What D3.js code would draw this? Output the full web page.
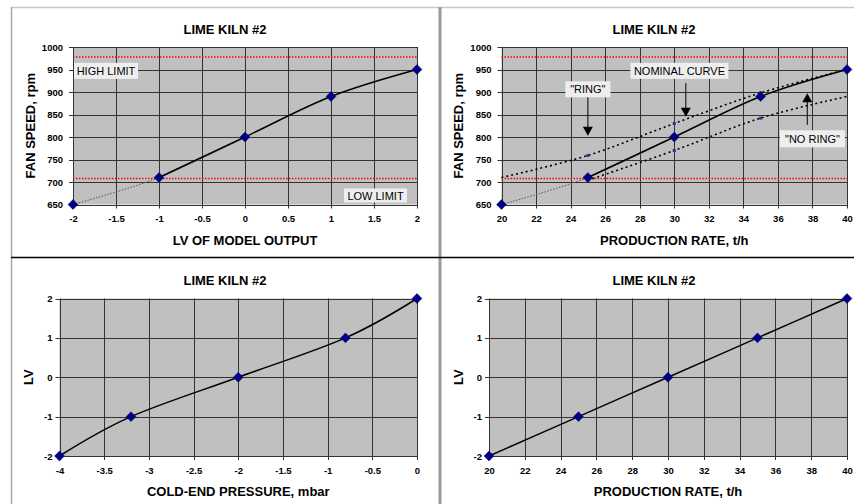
<!DOCTYPE html>
<html><head><meta charset="utf-8">
<script src="https://cdn.jsdelivr.net/npm/d3@7"></script>
<style>
body{margin:0;background:#fff;}
svg{display:block;font-family:"Liberation Sans",Arial,sans-serif;}
</style></head>
<body>
<svg id="c" width="854" height="504"></svg>
<script>
// ---------- data ----------
const lvValues = [-2, -1, 0, 1, 2];
const fanSpeed = [650, 710, 800, 890, 950];
const fanTicks = [650, 700, 750, 800, 850, 900, 950, 1000];
const lvTicks1 = [-2, -1.5, -1, -0.5, 0, 0.5, 1, 1.5, 2];
const highLimit = 978;
const lowLimit = 708;

const prodRate = [20, 25, 30, 35, 40];
const ringRate = [20, 25, 30, 35, 40];
const ringSpeed = [710, 759, 830, 898, 950];
const noRingRate = [25, 30, 35, 40];
const noRingSpeed = [704, 770, 842, 890];
const prodTicks = [20, 22, 24, 26, 28, 30, 32, 34, 36, 38, 40];

const pressure = [-4, -3.2, -2, -0.8, 0];
const pressureLV = [-2, -1, 0, 1, 2];
const pressureTicks = [-4, -3.5, -3, -2.5, -2, -1.5, -1, -0.5, 0];
const lvTicks = [-2, -1, 0, 1, 2];

const rateLV = [-2, -1, 0, 1, 2];

const title = "LIME KILN #2";

// ---------- drawing ----------
const svg = d3.select("#c");
const NAVY = "#000080";

// frame lines
svg.append("line").attr("x1", 11).attr("x2", 854).attr("y1", 7.5).attr("y2", 7.5).attr("stroke", "#c8c8c8").attr("stroke-width", 1.5);
svg.append("line").attr("x1", 11.5).attr("x2", 11.5).attr("y1", 7).attr("y2", 504).attr("stroke", "#a8a8a8").attr("stroke-width", 1.5);
svg.append("line").attr("x1", 440).attr("x2", 440).attr("y1", 7).attr("y2", 504).attr("stroke", "#9a9a9a").attr("stroke-width", 3);
svg.append("line").attr("x1", 11).attr("x2", 854).attr("y1", 257.5).attr("y2", 257.5).attr("stroke", "#000").attr("stroke-width", 1.5);

function panel(o) {
  const g = svg.append("g");
  const x = d3.scaleLinear().domain(o.xDomain).range([o.left, o.right]);
  const y = d3.scaleLinear().domain(o.yDomain).range([o.bottom, o.top]);
  g.append("rect").attr("x", o.left).attr("y", o.top)
    .attr("width", o.right - o.left).attr("height", o.bottom - o.top).attr("fill", "#c0c0c0");
  // grid
  g.selectAll(".vg").data(o.xTicks).join("line")
    .attr("x1", d => Math.round(x(d)) + 0.5).attr("x2", d => Math.round(x(d)) + 0.5)
    .attr("y1", o.top).attr("y2", o.bottom + 4).attr("stroke", "#333").attr("stroke-width", 1);
  g.selectAll(".hg").data(o.yTicks).join("line")
    .attr("x1", o.left - 4).attr("x2", o.right)
    .attr("y1", d => Math.round(y(d)) + 0.5).attr("y2", d => Math.round(y(d)) + 0.5)
    .attr("stroke", "#333").attr("stroke-width", 1);
  // axes via d3 axis (labels only)
  const xa = g.append("g").attr("transform", `translate(0,${o.bottom})`)
    .call(d3.axisBottom(x).tickValues(o.xTicks).tickSize(0).tickPadding(11).tickFormat(d => String(d).replace("-", "-")));
  const ya = g.append("g").attr("transform", `translate(${o.left},0)`)
    .call(d3.axisLeft(y).tickValues(o.yTicks).tickSize(0).tickPadding(o.yPad).tickFormat(d => String(d)));
  [xa, ya].forEach(a => {
    a.select(".domain").remove();
    a.selectAll("text").attr("font-family", "Liberation Sans, Arial, sans-serif")
      .attr("font-size", 9.5).attr("font-weight", "bold").attr("fill", "#000");
  });
  // title
  g.append("text").attr("x", o.titleX).attr("y", o.titleY).attr("text-anchor", "middle")
    .attr("font-size", 13).attr("font-weight", "bold").text(title);
  g.append("text").attr("x", (o.left + o.right) / 2).attr("y", o.xLabelY).attr("text-anchor", "middle")
    .attr("font-size", 13).attr("font-weight", "bold").text(o.xLabel);
  g.append("text").attr("transform", `translate(${o.yLabelX},${(o.top + o.bottom) / 2}) rotate(-90)`)
    .attr("text-anchor", "middle").attr("font-size", 13).attr("font-weight", "bold").text(o.yLabel);
  return {g, x, y};
}

function smoothLine(x, y) {
  return d3.line().x(d => x(d[0])).y(d => y(d[1])).curve(d3.curveCardinal.tension(0));
}
function diamonds(g, x, y, pts) {
  g.selectAll(null).data(pts).join("path")
    .attr("d", d3.symbol().type(d3.symbolDiamond2).size(62))
    .attr("transform", d => `translate(${x(d[0])},${y(d[1])}) rotate(0)`)
    .attr("fill", NAVY).attr("stroke", NAVY).attr("stroke-width", 0.5);
}
function limitLines(g, x, y, o) {
  [highLimit, lowLimit].forEach(v => {
    g.append("line").attr("x1", o.left).attr("x2", o.right).attr("y1", y(v)).attr("y2", y(v))
      .attr("stroke", "#ff0000").attr("stroke-width", 1.5).attr("stroke-dasharray", "1.5,1.5");
  });
}
function labelBox(g, cx, cy, w, h, text) {
  g.append("rect").attr("x", cx - w / 2).attr("y", cy - h / 2).attr("width", w).attr("height", h)
    .attr("fill", "#eeeeee");
  g.append("text").attr("x", cx).attr("y", cy + 4).attr("text-anchor", "middle")
    .attr("font-size", 11).attr("fill", "#000").text(text);
}
function arrow(g, x1, y1, x2, y2) {
  const dir = y2 > y1 ? 1 : -1;
  g.append("line").attr("x1", x1).attr("x2", x2).attr("y1", y1).attr("y2", y2 - dir * 7)
    .attr("stroke", "#000").attr("stroke-width", 1);
  g.append("path").attr("d", `M${x2 - 5},${y2 - dir * 9} L${x2 + 5},${y2 - dir * 9} L${x2},${y2} Z`).attr("fill", "#000");
}

// ---------- Panel 1 ----------
{
  const o = {left: 73, right: 417, top: 47, bottom: 204.5, xDomain: [-2, 2], yDomain: [650, 1000],
    xTicks: lvTicks1, yTicks: fanTicks, yPad: 10, titleX: 225, titleY: 34, xLabel: "LV OF MODEL OUTPUT",
    xLabelY: 245, yLabel: "FAN SPEED, rpm", yLabelX: 35};
  const {g, x, y} = panel(o);
  limitLines(g, x, y, o);
  const pts = lvValues.map((v, i) => [v, fanSpeed[i]]);
  g.append("path").attr("d", smoothLine(x, y)(pts.slice(0, 3))).attr("fill", "none")
    .attr("stroke", "#555").attr("stroke-width", 1).attr("stroke-dasharray", "1.5,1.5");
  g.append("path").attr("d", smoothLine(x, y)(pts.slice(1))).attr("fill", "none")
    .attr("stroke", "#000").attr("stroke-width", 1.5);
  diamonds(g, x, y, pts);
  labelBox(g, x(-2) + 33, y(947), 64, 16, "HIGH LIMIT");
  labelBox(g, x(2) - 41.5, y(670), 63, 14, "LOW LIMIT");
}

// ---------- Panel 2 ----------
{
  const o = {left: 501.5, right: 847, top: 47, bottom: 204.5, xDomain: [20, 40], yDomain: [650, 1000],
    xTicks: prodTicks, yTicks: fanTicks, yPad: 10, titleX: 654, titleY: 34, xLabel: "PRODUCTION RATE, t/h",
    xLabelY: 245, yLabel: "FAN SPEED, rpm", yLabelX: 463};
  const {g, x, y} = panel(o);
  limitLines(g, x, y, o);
  const nom = prodRate.map((v, i) => [v, fanSpeed[i]]);
  const ring = ringRate.map((v, i) => [v, ringSpeed[i]]);
  const noRing = noRingRate.map((v, i) => [v, noRingSpeed[i]]);
  g.append("path").attr("d", smoothLine(x, y)(ring)).attr("fill", "none")
    .attr("stroke", "#000").attr("stroke-width", 1.6).attr("stroke-dasharray", "2,3");
  g.append("path").attr("d", smoothLine(x, y)(noRing)).attr("fill", "none")
    .attr("stroke", "#000").attr("stroke-width", 1.6).attr("stroke-dasharray", "2,3");
  g.append("path").attr("d", smoothLine(x, y)(nom.slice(0, 3))).attr("fill", "none")
    .attr("stroke", "#555").attr("stroke-width", 1).attr("stroke-dasharray", "1.5,1.5");
  g.append("path").attr("d", smoothLine(x, y)(nom.slice(1))).attr("fill", "none")
    .attr("stroke", "#000").attr("stroke-width", 1.5);
  g.selectAll(null).data(ring.slice(1, 4).concat(noRing.slice(0, 3))).join("rect")
    .attr("x", d => x(d[0]) - 1.5).attr("y", d => y(d[1]) - 1.5).attr("width", 3).attr("height", 3)
    .attr("fill", "#333388");
  diamonds(g, x, y, nom);
  labelBox(g, x(30.3), y(947), 98, 16, "NOMINAL CURVE");
  labelBox(g, x(25.0), y(906), 45, 16, "\"RING\"");
  labelBox(g, x(38.0), y(796), 65, 17, "\"NO RING\"");
  arrow(g, x(25.0), y(888), x(25.0), y(803));
  arrow(g, x(30.67), y(920), x(30.67), y(845));
  arrow(g, x(37.7), y(827), x(37.7), y(897));
}

// ---------- Panel 3 ----------
{
  const o = {left: 59.5, right: 417, top: 298.5, bottom: 456, xDomain: [-4, 0], yDomain: [-2, 2],
    xTicks: pressureTicks, yTicks: lvTicks, yPad: 7, titleX: 225, titleY: 285, xLabel: "COLD-END PRESSURE, mbar",
    xLabelY: 496, yLabel: "LV", yLabelX: 33};
  const {g, x, y} = panel(o);
  const pts = pressure.map((v, i) => [v, pressureLV[i]]);
  g.append("path").attr("d", smoothLine(x, y)(pts)).attr("fill", "none")
    .attr("stroke", "#000").attr("stroke-width", 1.5);
  diamonds(g, x, y, pts);
}

// ---------- Panel 4 ----------
{
  const o = {left: 489, right: 847, top: 298.5, bottom: 456, xDomain: [20, 40], yDomain: [-2, 2],
    xTicks: prodTicks, yTicks: lvTicks, yPad: 7, titleX: 654, titleY: 285, xLabel: "PRODUCTION RATE, t/h",
    xLabelY: 496, yLabel: "LV", yLabelX: 463};
  const {g, x, y} = panel(o);
  const pts = prodRate.map((v, i) => [v, rateLV[i]]);
  g.append("path").attr("d", smoothLine(x, y)(pts)).attr("fill", "none")
    .attr("stroke", "#000").attr("stroke-width", 1.5);
  diamonds(g, x, y, pts);
}
</script>
</body></html>
